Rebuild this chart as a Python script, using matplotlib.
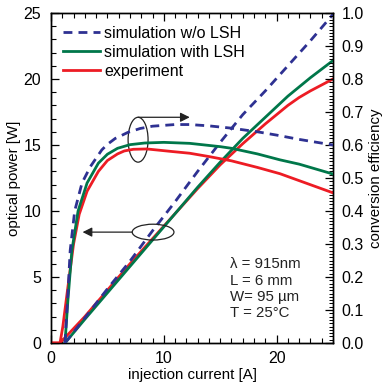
import matplotlib
matplotlib.use("Agg")
import matplotlib.pyplot as plt
from matplotlib.patches import Ellipse
from matplotlib.ticker import MultipleLocator, FormatStrFormatter

plt.rcParams['font.family'] = ['Liberation Sans', 'DejaVu Sans']

# ---- data ----
# optical power [W] vs injection current [A]
I_p_blue = [1.24, 3, 5, 7, 9, 11, 13, 15, 17, 19, 21, 23, 25]
P_blue = [0, 1.9, 4.1, 6.2, 8.5, 10.7, 13.0, 15.2, 17.3, 19.1, 21.0, 22.9, 24.9]

I_p_green = [1.24, 3, 5, 7, 9, 11, 13, 14, 15, 16, 17, 18, 19, 20, 21, 22, 23, 24, 25]
P_green = [0, 1.8, 3.8, 5.8, 7.8, 9.8, 11.8, 12.75, 13.7, 14.6, 15.5, 16.3, 17.1, 17.9,
           18.7, 19.4, 20.1, 20.75, 21.4]

I_p_red = [0, 0.8, 3, 5, 7, 9, 11, 13, 14, 15, 16, 17, 18, 19, 20, 21, 22, 23, 24, 25]
P_red = [0, 0, 2.0, 4.0, 6.0, 7.9, 9.8, 11.7, 12.6, 13.5, 14.3, 15.1, 15.85, 16.6, 17.3,
         18.0, 18.6, 19.1, 19.55, 20.0]

# conversion efficiency vs injection current [A]
I_e_blue = [1.24, 1.5, 1.7, 2.1, 2.75, 3.5, 4.5, 5.0, 5.7, 6.2, 6.8, 7.9, 9, 11, 12.3, 14,
            16, 18.3, 20, 22, 25]
E_blue = [0, 0.15, 0.28, 0.40, 0.485, 0.535, 0.585, 0.602, 0.62, 0.628, 0.638, 0.65, 0.657,
          0.662, 0.662, 0.658, 0.651, 0.64, 0.63, 0.617, 0.60]

I_e_green = [1.24, 1.5, 1.85, 2.4, 3.2, 4.2, 5.0, 5.9, 7.0, 8.3, 10, 12.3, 15, 16, 18.3,
             20.3, 22, 25]
E_green = [0, 0.13, 0.28, 0.40, 0.485, 0.545, 0.572, 0.59, 0.601, 0.606, 0.608, 0.605,
           0.595, 0.59, 0.573, 0.555, 0.542, 0.512]

I_e_red = [0, 0.8, 1.05, 1.5, 2, 2.5, 3.2, 4.2, 5.0, 5.9, 6.5, 7.3, 8.5, 10.8, 12.3, 14,
           16, 18.3, 20.3, 22, 25]
E_red = [0, 0, 0.05, 0.17, 0.30, 0.39, 0.46, 0.52, 0.553, 0.573, 0.582, 0.587, 0.588, 0.58,
         0.575, 0.565, 0.552, 0.532, 0.513, 0.492, 0.455]

labels = ["simulation w/o LSH", "simulation with LSH", "experiment"]
params = ["λ = 915nm", "L = 6 mm", "W= 95 µm", "T = 25°C"]

c_blue = '#2E3192'
c_green = '#00774A'
c_red = '#ED1C24'

fig = plt.figure(figsize=(3.88, 3.86), dpi=100)
ax = fig.add_axes([51/388, 1-343/386, 282/388, 330/386])
ax2 = ax.twinx()

lw = 2.0
dash = (0, (3.2, 2.2))
ax.plot(I_p_blue, P_blue, color=c_blue, lw=lw, ls=dash, label=labels[0], zorder=4)
ax.plot(I_p_green, P_green, color=c_green, lw=lw, label=labels[1], zorder=3)
ax.plot(I_p_red, P_red, color=c_red, lw=lw, label=labels[2], zorder=2)

ax2.plot(I_e_blue, E_blue, color=c_blue, lw=lw, ls=dash, zorder=4)
ax2.plot(I_e_green, E_green, color=c_green, lw=lw, zorder=3)
ax2.plot(I_e_red, E_red, color=c_red, lw=lw, zorder=2)

ax.set_xlim(0, 25)
ax.set_ylim(0, 25)
ax2.set_ylim(0, 1.0)

fs = 11.5
ax.xaxis.set_major_locator(MultipleLocator(10))
ax.xaxis.set_minor_locator(MultipleLocator(1))
ax.yaxis.set_major_locator(MultipleLocator(5))
ax.yaxis.set_minor_locator(MultipleLocator(1))
ax2.yaxis.set_major_locator(MultipleLocator(0.1))
ax2.yaxis.set_minor_locator(MultipleLocator(0.01))
ax.tick_params(which='both', direction='in', top=True, right=False, labelsize=fs)
ax.tick_params(axis='y', pad=7)
ax.tick_params(axis='x', pad=6)
ax.tick_params(which='major', length=6, width=0.9)
ax.tick_params(which='minor', length=3.5, width=0.8)
ax2.tick_params(which='both', direction='in', labelsize=fs, pad=6)
ax2.tick_params(which='major', length=6, width=0.9)
ax2.tick_params(which='minor', length=3, width=0.7)
ax2.yaxis.set_major_formatter(FormatStrFormatter('%.1f'))

ax.set_xlabel("injection current [A]", fontsize=10.8, labelpad=1)
ax.set_ylabel("optical power [W]", fontsize=10.8, labelpad=2)
ax2.set_ylabel("conversion efficiency", fontsize=10.8, labelpad=4)

for a in (ax, ax2):
    for s in a.spines.values():
        s.set_linewidth(1.0)

leg = ax.legend(loc='upper left', bbox_to_anchor=(0.01, 0.99), frameon=False,
                fontsize=11.5, handlelength=2.3, handletextpad=0.25,
                labelspacing=0.25, borderaxespad=0.2)

# annotations: ellipses and arrows
ax.add_patch(Ellipse((7.72, 15.4), 1.77, 3.4, fill=False, ec='#222222', lw=0.9, zorder=6))
ax.annotate("", xy=(12.3, 17.1), xytext=(7.72, 17.1),
            arrowprops=dict(arrowstyle='-|>', color='#222222', lw=0.9,
                            mutation_scale=14, shrinkA=0, shrinkB=0), zorder=6)
ax.add_patch(Ellipse((9.05, 8.4), 3.7, 1.2, fill=False, ec='#222222', lw=0.9, zorder=6))
ax.annotate("", xy=(2.8, 8.4), xytext=(7.2, 8.4),
            arrowprops=dict(arrowstyle='-|>', color='#222222', lw=0.9,
                            mutation_scale=14, shrinkA=0, shrinkB=0), zorder=6)

ax.text(15.9, 6.5, "\n".join(params), fontsize=10.8, va='top', ha='left',
        linespacing=1.22, color='#222222')

fig.savefig("out.png", dpi=100)
